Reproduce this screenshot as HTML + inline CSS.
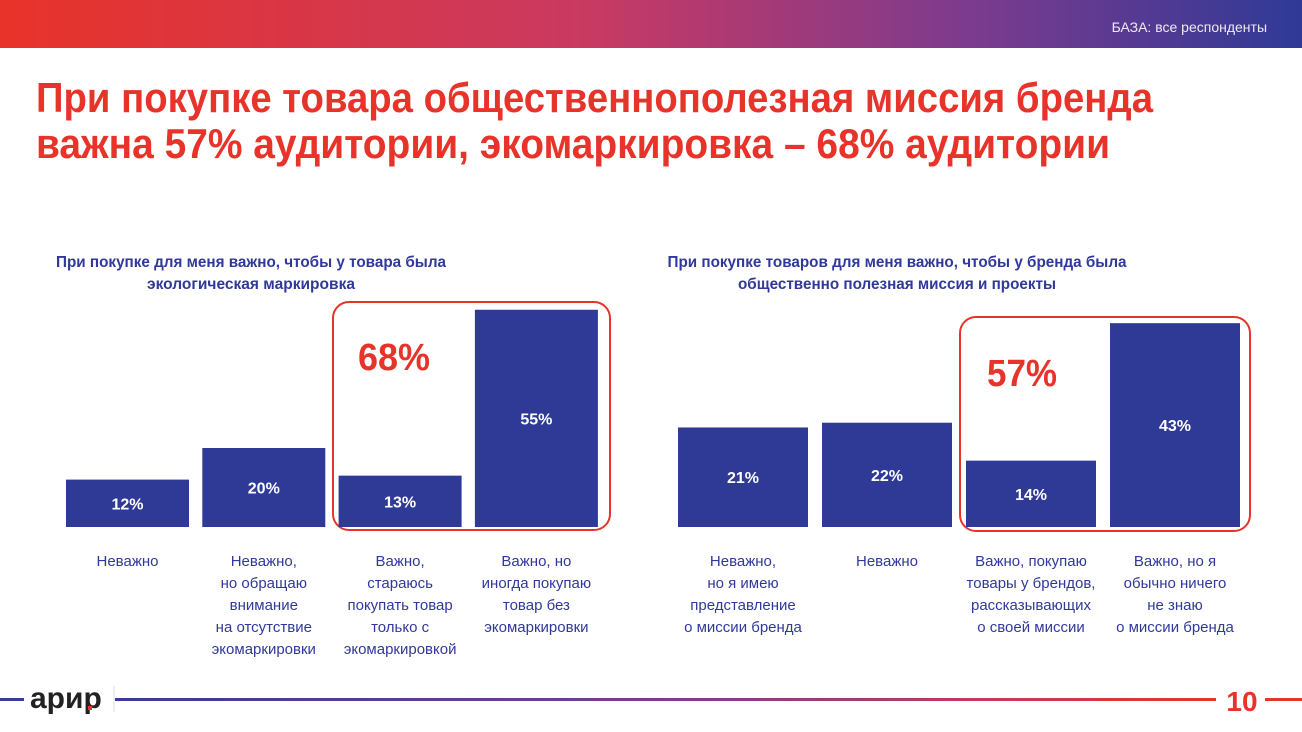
<!DOCTYPE html>
<html><head><meta charset="utf-8">
<style>
html,body{margin:0;padding:0;background:#fff;}
svg{display:block;font-family:"Liberation Sans Narrow","Liberation Sans",sans-serif;}
</style></head>
<body>
<svg id="s" width="1302" height="732" viewBox="0 0 1302 732" xmlns="http://www.w3.org/2000/svg">
<defs>
<linearGradient id="top" x1="0" x2="1" y1="0" y2="0">
<stop offset="0" stop-color="#e8332a"/><stop offset="0.45" stop-color="#c93a62"/><stop offset="0.75" stop-color="#7a3b8e"/><stop offset="1" stop-color="#2f3a96"/>
</linearGradient>
<linearGradient id="bot" x1="0" x2="1" y1="0" y2="0">
<stop offset="0" stop-color="#3a3c9a"/><stop offset="0.5" stop-color="#7a3d8f"/><stop offset="0.8" stop-color="#c53a5a"/><stop offset="1" stop-color="#e8332a"/>
</linearGradient>
</defs>
<rect x="0" y="0" width="1302" height="48" fill="url(#top)"/>
<text x="1267" y="32" text-anchor="end" font-size="14" fill="#f0e8f4">БАЗА: все респонденты</text>
<text x="36" y="112" font-size="42" font-weight="bold" fill="#e8332a" textLength="1117" lengthAdjust="spacingAndGlyphs">При покупке товара общественнополезная миссия бренда</text>
<text x="36" y="158" font-size="42" font-weight="bold" fill="#e8332a" textLength="1074" lengthAdjust="spacingAndGlyphs">важна 57% аудитории, экомаркировка – 68% аудитории</text>

<text x="251" y="267" text-anchor="middle" font-size="16" font-weight="bold" fill="#30399a" textLength="390" lengthAdjust="spacingAndGlyphs">При покупке для меня важно, чтобы у товара была</text>
<text x="251" y="289" text-anchor="middle" font-size="16" font-weight="bold" fill="#30399a" textLength="208" lengthAdjust="spacingAndGlyphs">экологическая маркировка</text>
<text x="897" y="267" text-anchor="middle" font-size="16" font-weight="bold" fill="#30399a" textLength="459" lengthAdjust="spacingAndGlyphs">При покупке товаров для меня важно, чтобы у бренда была</text>
<text x="897" y="289" text-anchor="middle" font-size="16" font-weight="bold" fill="#30399a" textLength="318" lengthAdjust="spacingAndGlyphs">общественно полезная миссия и проекты</text>

<rect x="333" y="302" width="277" height="228" rx="16" fill="none" stroke="#e8332a" stroke-width="2"/>
<text x="394" y="370" text-anchor="middle" font-size="38" font-weight="bold" fill="#e8332a" textLength="72" lengthAdjust="spacingAndGlyphs">68%</text>
<rect x="960" y="317" width="290" height="214" rx="16" fill="none" stroke="#e8332a" stroke-width="2"/>
<text x="1022" y="386" text-anchor="middle" font-size="38" font-weight="bold" fill="#e8332a" textLength="70" lengthAdjust="spacingAndGlyphs">57%</text>
<g id="charts"></g>

<rect x="0" y="698" width="24" height="3" fill="#3a3c9a"/>
<rect x="115" y="698" width="1101" height="3" fill="url(#bot)"/>
<rect x="1265" y="698" width="37" height="3" fill="#e8332a"/>
<line x1="114" y1="686" x2="114" y2="712" stroke="#ddd" stroke-width="1"/>
<text x="30" y="708" font-size="30" font-weight="bold" fill="#222" font-family="Liberation Sans, sans-serif">арир</text>
<rect x="88" y="706" width="4" height="4" fill="#e8332a"/>
<text x="1242" y="711" text-anchor="middle" font-size="28" font-weight="bold" fill="#e8332a">10</text>
</svg>
<script>
const leftCategories=[["Неважно"],["Неважно,","но обращаю","внимание","на отсутствие","экомаркировки"],["Важно,","стараюсь","покупать товар","только с","экомаркировкой"],["Важно, но","иногда покупаю","товар без","экомаркировки"]];
const leftValues=[12,20,13,55];
const rightCategories=[["Неважно,","но я имею","представление","о миссии бренда"],["Неважно"],["Важно, покупаю","товары у брендов,","рассказывающих","о своей миссии"],["Важно, но я","обычно ничего","не знаю","о миссии бренда"]];
const rightValues=[21,22,14,43];
const NS="http://www.w3.org/2000/svg";
const g=document.getElementById('charts');
function mk(tag,attrs){const e=document.createElementNS(NS,tag);for(const k in attrs)e.setAttribute(k,attrs[k]);g.appendChild(e);return e;}
function draw(cats,vals,x0,step,bw,scale,prefix){
  const base=527;
  vals.forEach((v,i)=>{
    const x=x0+i*step,h=v*scale,y=base-h;
    const r=mk('rect',{x:x,y:y,width:bw,height:h,fill:'#2f3a96'});
    
    
    const t=mk('text',{x:x+bw/2,y:y+h/2+6,'text-anchor':'middle','font-size':16,'font-weight':'bold',fill:'#fff'});
    t.textContent=v+'%';
    
    
    cats[i].forEach((ln,j)=>{
      const c=mk('text',{x:x+bw/2,y:566+j*22,'text-anchor':'middle','font-size':15,fill:'#30399a'});
      c.textContent=ln;
      
      
    });
  });
}
draw(leftCategories,leftValues,66,136.3,123,3.95,'left');
draw(rightCategories,rightValues,678,144,130,4.74,'right');
</script>
</body></html>
